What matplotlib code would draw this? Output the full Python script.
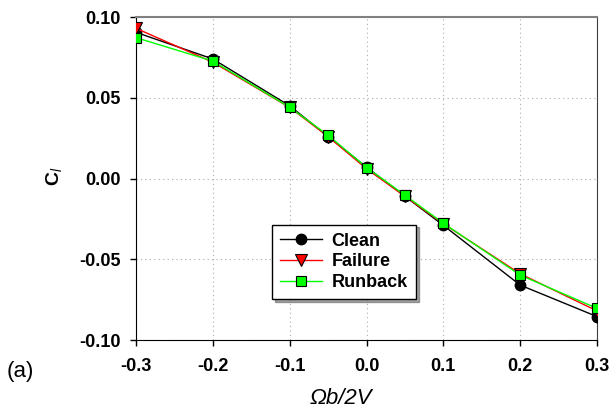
import matplotlib
matplotlib.use("Agg")
import matplotlib.pyplot as plt

plt.rcParams['font.family'] = ['Liberation Sans', 'DejaVu Sans']
plt.rcParams['mathtext.fontset'] = 'custom'
plt.rcParams['mathtext.rm'] = 'Liberation Sans'
plt.rcParams['mathtext.it'] = 'Liberation Sans:italic'
plt.rcParams['mathtext.bf'] = 'Liberation Sans:bold'

omega = [-0.3, -0.2, -0.1, -0.05, 0.0, 0.05, 0.1, 0.2, 0.3]
clean = [0.0905, 0.074, 0.045, 0.026, 0.007, -0.011, -0.029, -0.066, -0.0855]
failure = [0.093, 0.072, 0.044, 0.026, 0.006, -0.011, -0.028, -0.059, -0.082]
runback = [0.0872, 0.0727, 0.0441, 0.0268, 0.0068, -0.0103, -0.0277, -0.0598, -0.0804]

xticks = [-0.3, -0.2, -0.1, 0.0, 0.1, 0.2, 0.3]
yticks = [-0.10, -0.05, 0.00, 0.05, 0.10]

fig = plt.figure(figsize=(6.11, 4.13), dpi=100)
ax = fig.add_axes([136 / 611, 1 - 340 / 413, 461 / 611, 323 / 413])

ax.plot(omega, clean, color='black', lw=1, marker='o', ms=7.5,
        mfc='black', mec='black', label='Clean', zorder=3)
ax.plot(omega, failure, color='red', lw=1, marker='v', ms=8,
        mfc='red', mec='black', mew=0.8, label='Failure', zorder=4)
ax.plot(omega, runback, color='#00ff00', lw=1, marker='s', ms=7.5,
        mfc='#00ff00', mec='black', mew=0.8, label='Runback', zorder=5)

ax.set_xlim(-0.3, 0.3)
ax.set_ylim(-0.10, 0.10)
ax.set_xticks(xticks)
ax.set_yticks(yticks)
ax.set_xticklabels(['%.1f' % v for v in xticks], fontweight='bold', fontsize=13)
ax.set_yticklabels(['%.2f' % v for v in yticks], fontweight='bold', fontsize=13)
ax.tick_params(direction='out', length=4, width=1, top=False, right=False)
ax.tick_params(axis='x', pad=9)
ax.tick_params(axis='y', pad=7)

ax.grid(True, linestyle=(0, (1, 3)), color='#aaaaaa', lw=0.8)
ax.set_axisbelow(True)
ax.spines['top'].set_color('#808080')
ax.spines['top'].set_linewidth(1.5)
ax.spines['right'].set_color('#404040')

fig.text(340.5 / 611, 1 - 398 / 413, 'Ωb/2V', fontsize=16, fontstyle='italic',
         ha='center', va='center')
fig.text(54 / 611, 1 - 176 / 413, r'C$_{\mathit{l}}$', fontsize=14,
         fontweight='bold', rotation=90, ha='center', va='center')

leg = ax.legend(loc='lower left', bbox_to_anchor=(0.295, 0.127),
                borderaxespad=0, fancybox=False, shadow=True, edgecolor='black',
                prop={'weight': 'bold', 'size': 13},
                handlelength=2.3, handletextpad=0.55, borderpad=0.45,
                labelspacing=0.2)
leg.get_frame().set_linewidth(1)

fig.text(7 / 611, 1 - 372 / 413, '(a)', fontsize=16, va='center')

fig.savefig('out.png', dpi=100)
